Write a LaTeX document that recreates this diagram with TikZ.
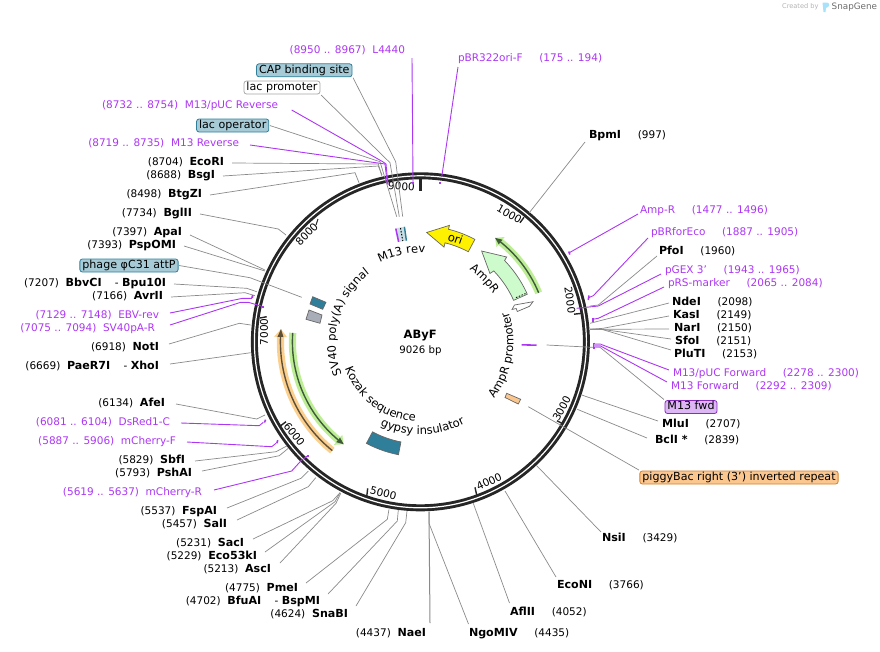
\documentclass[tikz,border=0pt]{standalone}
\usepackage{fontspec}
\setmainfont{DejaVu Sans}
\usetikzlibrary{decorations.text}
\definecolor{pur}{HTML}{AC36F2}
\definecolor{gl}{HTML}{8A8A8A}
\definecolor{ringc}{HTML}{262626}
\definecolor{teal}{HTML}{2F7F9A}
\definecolor{lblue}{HTML}{A6CBD6}
\definecolor{fwd}{HTML}{DDB6F5}
\definecolor{pig}{HTML}{FCC78F}
\definecolor{gband}{HTML}{BDEE96}
\definecolor{oband}{HTML}{FBD08F}
\definecolor{gdark}{HTML}{3F5A3A}
\definecolor{odark}{HTML}{5E5038}
\definecolor{ampg}{HTML}{CDFBCB}
\definecolor{gbox}{HTML}{A9ADB8}
\def\CX{420.4}
\def\CY{341.8}
\newcommand{\LP}[2]{-- ({\CX+(#1)*sin(#2)},{\CY-(#1)*cos(#2)})}
\newcommand{\arcp}[3]{plot[domain=#2:#3,samples=30] ({\CX+(#1)*sin(\x)},{\CY-(#1)*cos(\x)})}
\newcommand{\LA}[3]{-- plot[domain=#2:#3,samples=30] ({\CX+(#1)*sin(\x)},{\CY-(#1)*cos(\x)})}
\newcommand{\fs}{\fontsize{10.5}{13}\selectfont}
\newcommand{\fb}{\fontsize{11.1}{13}\selectfont}
\newcommand{\fc}{\fontsize{11.5}{13}\selectfont}
\newcommand{\gp}{~~~~~}
\newcommand{\tb}[1]{{\fontsize{11.1}{13}\selectfont\bfseries #1}}
\newcommand{\curved}[4]{\path[decorate,decoration={text along path,text align=center,text={|\fc|#4}}] \arcp{#1}{#2}{#3};}
\newcommand{\arcarrow}[8]{% r, start, headangle, tip, half width, head half width, band colour, dark colour
  \fill[#7] \arcp{#1+#5}{#2}{#3} \LP{#1+#6}{#3} \LP{#1}{#4} \LP{#1-#6}{#3} \LA{#1-#5}{#3}{#2} -- cycle;
  \draw[#8,line width=1.4pt] \arcp{#1}{#2}{#3};
  \fill[#8] ({\CX+(#1+3)*sin(#3)},{\CY-(#1+3)*cos(#3)}) \LP{#1}{#4} \LP{#1-3}{#3} -- cycle;}
\tikzset{
  x=1pt,y=-1pt,
  lab/.style={font=\fs,text height=8pt,text depth=2.5pt,inner xsep=0pt,inner ysep=0pt,outer xsep=8pt,outer ysep=0pt},
  le/.style={lab,anchor=east,xshift=8pt},
  ri/.style={lab,anchor=west,xshift=-8pt},
  ple/.style={le,text=pur},
  pri/.style={ri,text=pur},
  boxn/.style={font=\fb,rounded corners=2.5pt,inner xsep=2.5pt,inner ysep=1.4pt,text height=8pt,text depth=2.2pt,outer sep=1pt,line width=.8pt},
  bluebox/.style={boxn,fill=lblue,draw=teal},
  whitebox/.style={boxn,fill=white,draw=gray!70},
  purbox/.style={boxn,fill=fwd,draw=pur!80!black},
  pigbox/.style={boxn,fill=pig,draw=orange!65!gray},
  lead/.style={gl,line width=.7pt},
  plead/.style={pur,line width=.9pt},
  tk/.style={pur,line width=1.6pt},
  tick/.style={ringc,line width=1pt},
  tlab/.style={font=\fs,inner sep=0pt},
  feat/.style={draw=gray!80!black,line width=.7pt},
}
\begin{document}
\begin{tikzpicture}
\useasboundingbox (0,0) rectangle (880,651);
% logo
\node[font=\fontsize{6.6}{8}\selectfont,text=gray!60,inner sep=0pt,anchor=west] (logoa) at (782,7) {Created by};
\fill[cyan!35] (822.5,2.5) -- (827,2.5) .. controls (830,3) and (830,7) .. (826,8) -- (825.5,12) -- (823.5,12) -- cycle;
\node[font=\fontsize{8.8}{10}\selectfont,text=gray!85!black,inner sep=0pt,anchor=west] (logob) at (831.5,7) {SnapGene};
% ring
\draw[ringc,line width=7pt] (\CX,\CY) circle[radius=166pt];
\draw[white,line width=1.2pt] (\CX,\CY) circle[radius=166pt];
% ticks
\draw[ringc,line width=2.6pt] (420.7,179.3) -- (420.7,190.7);
\draw[tick] (318,219) -- (316,225);
\draw[tick,line width=1.4pt] (520,222.7) -- (524,217.3);
\draw[tick,line width=1.4pt] (574,314.2) -- (581,313.4);
\draw[tick,line width=1.4pt] (557,420.7) -- (563,424);
\draw[tick,line width=1.4pt] (475,487.3) -- (476.7,495);
\draw[tick,line width=1.4pt] (367.7,488.3) -- (366.7,496.7);
\draw[tick,line width=1.4pt] (286,421.7) -- (280.7,425.7);
\draw[tick,line width=1.4pt] (266.7,316.7) -- (260,318);
\node[tlab,rotate=-3] (t9) at (401.5,186.5) {9000};
\node[tlab,rotate=46] (t8) at (306.7,234.3) {8000};
\node[tlab,rotate=-30] (t1) at (509.3,214.3) {1000};
\node[tlab,rotate=-82] (t2) at (570,300) {2000};
\node[tlab,rotate=62] (t3) at (561.7,408.3) {3000};
\node[tlab,rotate=25] (t4) at (489,481.7) {4000};
\node[tlab,rotate=-15] (t5) at (383.3,493.3) {5000};
\node[tlab,rotate=-52] (t6) at (294.3,434.3) {6000};
\node[tlab,rotate=90] (t7) at (264,331.7) {7000};
% centre
\node[font=\bfseries\fontsize{11.5}{13}\selectfont,inner sep=0pt] (title) at (420.2,336) {AByF};
\node[font=\fontsize{10.2}{12}\selectfont,inner sep=0pt] (size) at (420.5,350.5) {9026 bp};
% inner features
\draw[feat,fill=yellow] \arcp{116}{28}{14} \LP{120}{14} \LP{109.5}{3.3} \LP{97.6}{14} \LA{102}{14}{28} -- cycle;
\node[font=\fc,rotate=-19,inner sep=0pt] (ori) at (455.5,238.5) {ori};
\draw[feat,fill=ampg] \arcp{117}{66}{46} \LP{121}{45.5} \LP{109.5}{34} \LP{97.5}{45.5} \LA{102}{46}{66} -- cycle;
\draw[black,line width=.8pt,dash pattern=on 1.5pt off 1.5pt] (516,297.6) -- (525.4,293.6);
\draw[feat,fill=white] (514.5,305) -- (533,301.7) -- (529.5,306.3) -- (517.3,311.5) -- (516.2,308.5) -- (512,309.5) -- cycle;
\arcarrow{128}{67.5}{38.8}{35.7}{3.6}{6.5}{gband}{gdark}
\arcarrow{140}{-141}{-88}{-84.8}{3.6}{6.5}{oband}{odark}
\arcarrow{128}{-86}{-140}{-143.2}{3.6}{6.5}{gband}{gdark}
\draw[feat,fill=teal] \arcp{102}{191}{208} \LA{115}{208}{191} -- cycle;
\draw[feat,fill=teal] (312.7,296.7) -- (326,302.3) -- (322.7,309.3) -- (310,304) -- cycle;
\draw[feat,fill=gbox] (309,310) -- (322,315) -- (320,323.3) -- (306,319.3) -- cycle;
\draw[feat,fill=pig] (506.7,393.3) -- (520.7,399.3) -- (518.3,404) -- (505,397.5) -- cycle;
% M13 rev cluster
\fill[lblue!60] (397,228) -- (405,226.7) -- (407,240) -- (399,242) -- cycle;
\draw[pur,line width=1.6pt] (395.8,228.5) -- (398.6,241.8);
\draw[teal,line width=1.4pt] (404.4,226.8) -- (406.4,240.7);
\draw[black,dash pattern=on 1.5pt off 1.5pt,line width=1pt] (400.5,228) -- (402.8,241);
% M13 fwd inner piece
\draw[pur,line width=1.6pt] (521.7,344.8) -- (536.5,345.2);
% curved labels
\curved{85}{-118}{-31}{SV40 poly(A) signal}
\curved{80}{262}{172}{Kozak sequence}
\curved{93}{215}{142}{gypsy insulator}
\curved{89}{-40}{16}{M13 rev}
\curved{87}{20}{71}{AmpR}
\curved{93}{140}{59}{AmpR promoter}
% ------ labels top
\node[ple] (L4440) at (405,51) {(8950 .. 8967)~~L4440};
\node[pri] (pBRo) at (458,59) {pBR322ori-F\gp(175 .. 194)};
\draw[plead] (412,58) -- (413,182);
\fill[pur] (412.2,181.5) rectangle (414.2,183.5);
\draw[plead] (458,67) -- (441.7,177);
\fill[pur] (439.2,182) rectangle (441.2,184);
\node[bluebox] (cap) at (304.3,70.3) {CAP binding site};
\draw[lead] (cap.south east) -- (395.7,161.7) -- (402.7,216.7);
\node[whitebox] (lacp) at (282,87.5) {lac promoter};
\draw[lead] (lacp.south east) -- (390,162.7) -- (399.3,216.7);
\node[ple] (pucr) at (278,106) {(8732 .. 8754)~~M13/pUC Reverse};
\draw[plead] (291.7,110) -- (382.7,161.7) -- (386,164) -- (388,185);
\node[bluebox] (laco) at (232.7,125.5) {lac operator};
\draw[lead] (laco.east) -- (380,161.7) -- (396.7,216.7);
\node[ple] (m13r) at (239,144) {(8719 .. 8735)~~M13 Reverse};
\draw[plead] (250,145) -- (380,163.3) -- (385,164) -- (387.3,184);
\node[le] (ecori) at (224,163) {(8704)~~\tb{EcoRI}};
\draw[lead] (ecori.east) -- (378.3,164) -- (381.7,175.7);
\node[le] (bsgi) at (215,176) {(8688)~~\tb{BsgI}};
\draw[lead] (bsgi.east) -- (378.3,166) -- (382,175);
\node[le] (btgzi) at (202,195) {(8498)~~\tb{BtgZI}};
\draw[lead] (btgzi.east) -- (355,172.7) -- (359,182.7);
\node[le] (bglii) at (192,214) {(7734)~~\tb{BglII}};
\draw[lead] (bglii.east) -- (278.3,229) -- (286,235);
\node[le] (apai) at (182,233) {(7397)~~\tb{ApaI}};
\draw[lead] ([yshift=-2pt]apai.east) -- (265,270);
\node[le] (psp) at (176,246) {(7393)~~\tb{PspOMI}};
\draw[lead] (psp.east) -- (265,271);
\node[bluebox] (attp) at (129,265.5) {phage φC31 attP};
\draw[lead] (attp.east) -- (250,277.7) -- (301.7,297.3);
\node[le] (bbv) at (166,284) {(7207)~~\tb{BbvCI}~~~~- \tb{Bpu10I}};
\draw[lead] (bbv.east) -- (246.7,288.3) -- (256.7,291.7);
\node[le] (avr) at (163,297) {(7166)~~\tb{AvrII}};
\draw[lead] (avr.east) -- (245,292.7) -- (255,295.7);
\node[ple] (ebv) at (159,316) {(7129 .. 7148)~~EBV-rev};
\draw[plead] ([yshift=3pt,xshift=3pt]ebv.east) -- (242.7,298.3) -- (251.7,298.3) -- (252.3,295.7);
\draw[tk] (252.4,298) -- (252.6,295);
\node[ple] (sv40) at (155,329) {(7075 .. 7094)~~SV40pA-R};
\draw[plead] ([yshift=4pt,xshift=7pt]sv40.east) -- (240.7,302.3) -- (248.3,302.3) -- (263.3,306.7);
\fill[pur] (262.3,305.7) rectangle (264.3,307.7);
\node[le] (noti) at (159,348) {(6918)~~\tb{NotI}};
\draw[lead] ([yshift=4pt,xshift=2pt]noti.east) -- (239.3,323.3) -- (250.7,325);
\node[le] (pae) at (159,367) {(6669)~~\tb{PaeR7I}~~~~- \tb{XhoI}};
\draw[lead] ([yshift=3pt,xshift=3pt]pae.east) -- (250.7,352.7);
\node[le] (afei) at (165,404) {(6134)~~\tb{AfeI}};
\draw[lead] ([xshift=3pt]afei.east) -- (256.7,419) -- (265,415);
\node[ple] (dsr) at (170,423) {(6081 .. 6104)~~DsRed1-C};
\draw[plead] ([xshift=3pt]dsr.east) -- (259.3,425.7) -- (263.3,422.3);
\draw[tk] (264.4,422.5) -- (265.6,419.7);
\node[ple] (mcf) at (176,442) {(5887 .. 5906)~~mCherry-F};
\draw[plead] ([xshift=3pt]mcf.east) -- (271.7,446.7) -- (276,443.3);
\draw[tk] (276.8,443.3) -- (277.8,440.2);
\node[le] (sbfi) at (185,461) {(5829)~~\tb{SbfI}};
\draw[lead] ([xshift=2pt]sbfi.east) -- (276,451.7) -- (286.7,446);
\node[le] (psh) at (192,474) {(5793)~~\tb{PshAI}};
\draw[lead] ([yshift=3pt,xshift=2pt]psh.east) -- (279.3,455.7) -- (288.3,448.3);
\node[ple] (mcr) at (202,493) {(5619 .. 5637)~~mCherry-R};
\draw[plead] ([yshift=3pt,xshift=4pt]mcr.east) -- (291.7,471) -- (301.7,460) -- (307.7,455.7);
\fill[pur] (306.7,454.7) rectangle (308.7,456.7);
\node[le] (fsp) at (217,512) {(5537)~~\tb{FspAI}};
\draw[lead] ([yshift=4pt,xshift=2pt]fsp.east) -- (301,478.3) -- (308.3,471);
\node[le] (sali) at (227,525) {(5457)~~\tb{SalI}};
\draw[lead] ([yshift=5pt,xshift=2pt]sali.east) -- (308.3,486.7) -- (315.7,477.7);
\node[le] (saci) at (244,544) {(5231)~~\tb{SacI}};
\draw[lead] ([yshift=5pt,xshift=1pt]saci.east) -- (332.7,500.7) -- (340,492.7);
\node[le] (eco53) at (257,557) {(5229)~~\tb{Eco53kI}};
\draw[lead] ([yshift=5pt]eco53.east) -- (335,501.7) -- (340,492.7);
\node[le] (asci) at (271,570) {(5213)~~\tb{AscI}};
\draw[lead] ([yshift=7pt,xshift=1pt]asci.east) -- (336,503.3) -- (340.7,493.3);
\node[le] (pmei) at (298,589) {(4775)~~\tb{PmeI}};
\draw[lead] ([yshift=6pt]pmei.east) -- (387.3,519.3) -- (389,509.3);
\node[le] (bfu) at (320,602) {(4702)~~\tb{BfuAI}~~~~- \tb{BspMI}};
\draw[lead] ([yshift=8pt]bfu.east) -- (397.3,521) -- (398.3,510);
\node[le] (sna) at (348,615) {(4624)~~\tb{SnaBI}};
\draw[lead] ([yshift=9pt]sna.east) -- (405.7,522.7) -- (407,511);
\node[le] (nae) at (426,634) {(4437)~~\tb{NaeI}};
\draw[lead,line width=1pt] ([yshift=11pt,xshift=-4pt]nae.east) -- (429,511.7);
\node[ri] (ngo) at (469,634) {\tb{NgoMIV}\gp(4435)};
\draw[lead] ([yshift=10pt,xshift=7.5pt]ngo.west) -- (429,523.3) -- (429,511.7);
\node[ri] (afl) at (510,613) {\tb{AflII}\gp(4052)};
\draw[lead] ([yshift=10pt,xshift=7.5pt]afl.west) -- (473.3,503.3);
\node[ri] (econi) at (557,586) {\tb{EcoNI}\gp(3766)};
\draw[lead] ([yshift=9pt,xshift=7pt]econi.west) -- (505,491);
\node[ri] (nsii) at (602,539) {\tb{NsiI}\gp(3429)};
\draw[lead] ([yshift=7pt,xshift=7pt]nsii.west) -- (536.7,465.7);
\node[pigbox] (pigr) at (739,477.5) {piggyBac right (3') inverted repeat};
\draw[lead] (pigr.north west) -- (528.3,406.7);
\node[ri] (bcli) at (655,441) {\tb{BclI *}\gp(2839)};
\draw[lead] ([yshift=3pt]bcli.west) -- (577.3,409.3);
\node[ri] (mlui) at (662,425) {\tb{MluI}\gp(2707)};
\draw[lead] ([yshift=4pt,xshift=4pt]mlui.west) -- (581.7,395);
\node[purbox] (m13f) at (691,407) {M13 fwd};
\draw[lead] (m13f.north west) -- (600,347.3) -- (592.3,347.3) -- (546.7,345);
\node[pri] (pucf) at (673,374) {M13/pUC Forward\gp(2278 .. 2300)};
\draw[plead] ([yshift=4pt,xshift=4pt]pucf.west) -- (600,344) -- (593.3,344);
\node[pri] (m13fp) at (671,387) {M13 Forward\gp(2292 .. 2309)};
\draw[plead] ([yshift=5pt,xshift=4pt]m13fp.west) -- (600,345.7) -- (593.3,345.7);
\draw[tk] (593.8,342.5) -- (593.8,349);
\fill[fwd!70!pur] (594,343.5) rectangle (600.5,347);
\node[ri] (plu) at (674,355) {\tb{PluTI}\gp(2153)};
\draw[lead] ([yshift=5pt,xshift=5pt]plu.west) -- (601.7,329.3) -- (590,329.3);
\node[ri] (sfo) at (675,342) {\tb{SfoI}\gp(2151)};
\draw[lead] ([yshift=3pt,xshift=4pt]sfo.west) -- (601.7,329.3) -- (590,329.3);
\node[ri] (nar) at (674,329) {\tb{NarI}\gp(2150)};
\draw[lead] ([xshift=3pt]nar.west) -- (590,329.3);
\node[ri] (kas) at (673,316) {\tb{KasI}\gp(2149)};
\draw[lead] ([xshift=4pt]kas.west) -- (603,328.3) -- (590,329.3);
\node[ri] (nde) at (672,303) {\tb{NdeI}\gp(2098)};
\draw[lead] ([xshift=5pt]nde.west) -- (590,323.3);
\node[pri] (prs) at (668,284) {pRS-marker\gp(2065 .. 2084)};
\draw[plead] ([yshift=-3pt,xshift=4pt]prs.west) -- (598.3,318.3) -- (592.7,319.3);
\draw[tk] (592.7,317.5) -- (592.7,321.7);
\node[pri] (pgex) at (665,271) {pGEX 3'\gp(1943 .. 1965)};
\draw[plead] ([yshift=-3pt,xshift=4pt]pgex.west) -- (598.3,306) -- (576.7,308.3);
\node[ri] (pfo) at (659,252) {\tb{PfoI}\gp(1960)};
\draw[lead] ([yshift=-4pt,xshift=6pt]pfo.west) -- (598.3,305) -- (590,306);
\node[pri] (pbrf) at (651,233) {pBRforEco\gp(1887 .. 1905)};
\draw[plead] ([yshift=-5pt,xshift=5pt]pbrf.west) -- (593.3,295.7) -- (589,297.5);
\draw[tk] (589,295.5) -- (588.3,300);
\node[pri] (ampr) at (640,211) {Amp-R\gp(1477 .. 1496)};
\draw[plead] ([yshift=-3pt,xshift=6pt]ampr.west) -- (569.3,252.7);
\draw[tk] (568.8,251.5) -- (569.8,254.5);
\node[ri] (bpm) at (589,136) {\tb{BpmI}\gp(997)};
\draw[lead] ([yshift=-6pt,xshift=4pt]bpm.west) -- (529.3,212.7);
\end{tikzpicture}
\end{document}
